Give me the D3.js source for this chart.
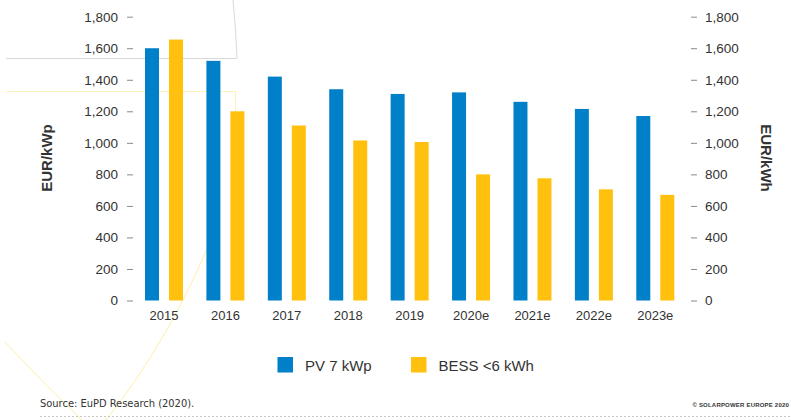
<!DOCTYPE html>
<html>
<head>
<meta charset="utf-8">
<script src="https://cdn.jsdelivr.net/npm/d3@7"></script>
<style>
  html, body { margin: 0; padding: 0; background: #fff; }
  svg { display: block; }
  text { font-family: "Liberation Sans", Arial, sans-serif; fill: #333; }
</style>
</head>
<body>
<svg id="chart" width="791" height="420"></svg>
<script>
// Residential PV system and battery storage prices
const categories = ["2015", "2016", "2017", "2018", "2019", "2020e", "2021e", "2022e", "2023e"];
const seriesNames = ["PV 7 kWp", "BESS <6 kWh"];
const pvValues = [1600, 1520, 1420, 1340, 1310, 1320, 1260, 1215, 1170];      // EUR/kWp
const bessValues = [1655, 1200, 1110, 1015, 1005, 800, 775, 705, 670];       // EUR/kWh
const yTicks = [0, 200, 400, 600, 800, 1000, 1200, 1400, 1600, 1800];
const colors = ["#0080c9", "#ffc10e"];

const svg = d3.select("#chart");

// faint decorative background strokes
const deco = svg.append("g").attr("fill", "none");
deco.append("path")
  .attr("d", "M6,58.5 L237,58.5 Q236,30 233,0")
  .attr("stroke", "#d9d9d9").attr("stroke-width", 1);
deco.append("path")
  .attr("d", "M6,91.5 L235.5,91.5 L235.5,300")
  .attr("stroke", "#fdf3b8").attr("stroke-width", 1);
deco.append("path")
  .attr("d", "M215,230 Q170,340 106,420")
  .attr("stroke", "#fdf0a8").attr("stroke-width", 1);
deco.append("path")
  .attr("d", "M5,342 Q45,385 82,420")
  .attr("stroke", "#fdf0a8").attr("stroke-width", 1);

const x0 = d3.scaleBand().domain(categories).range([133.3, 686]).padding(0);
const x1 = d3.scaleBand().domain(seriesNames)
  .range([11.7, 49.7]).paddingInner(10 / 24).paddingOuter(0);
const y = d3.scaleLinear().domain([0, 1800]).range([300.5, 16.7]);

const rows = categories.map((c, i) => ({ cat: c, values: [pvValues[i], bessValues[i]] }));

const groups = svg.append("g").selectAll("g")
  .data(rows).join("g")
  .attr("transform", d => `translate(${x0(d.cat)},0)`);

groups.selectAll("rect")
  .data(d => d.values.map((v, k) => ({ name: seriesNames[k], v, k })))
  .join("rect")
  .attr("x", d => x1(d.name))
  .attr("width", x1.bandwidth())
  .attr("y", d => y(d.v))
  .attr("height", d => y(0) - y(d.v))
  .attr("fill", d => colors[d.k]);

// category labels
svg.append("g").selectAll("text")
  .data(categories).join("text")
  .attr("x", d => x0(d) + (x1(seriesNames[0]) + x1(seriesNames[1]) + x1.bandwidth()) / 2)
  .attr("y", 320)
  .attr("text-anchor", "middle")
  .attr("font-size", 13)
  .text(d => d);

const fmt = d3.format(",");
function styleAxis(g) {
  g.select(".domain").remove();
  g.selectAll(".tick line").attr("stroke", "#888");
  g.selectAll(".tick text").attr("font-size", 13.5).attr("fill", "#333")
    .style("font-family", "'Liberation Sans', Arial, sans-serif");
}

svg.append("g")
  .attr("transform", "translate(133,0)")
  .call(d3.axisLeft(y).tickValues(yTicks).tickFormat(fmt).tickSize(6).tickPadding(9))
  .call(styleAxis);

svg.append("g")
  .attr("transform", "translate(691,0)")
  .call(d3.axisRight(y).tickValues(yTicks).tickFormat(fmt).tickSize(6).tickPadding(8))
  .call(styleAxis);

// axis titles
svg.append("text")
  .attr("transform", "translate(52,158) rotate(-90)")
  .attr("text-anchor", "middle")
  .attr("font-size", 15).attr("font-weight", "bold").attr("fill", "#222")
  .text("EUR/kWp");
svg.append("text")
  .attr("transform", "translate(761,158) rotate(90)")
  .attr("text-anchor", "middle")
  .attr("font-size", 15).attr("font-weight", "bold").attr("fill", "#222")
  .text("EUR/kWh");

// legend
const legendX = [277.5, 411];
const legend = svg.append("g").selectAll("g")
  .data(seriesNames).join("g")
  .attr("transform", (d, i) => `translate(${legendX[i]},357)`);
legend.append("rect")
  .attr("width", 15.5).attr("height", 15.5)
  .attr("fill", (d, i) => colors[i]);
legend.append("text")
  .attr("x", 27.5).attr("y", 13.5)
  .attr("font-size", 15)
  .text(d => d);

// source note and footer
svg.append("text")
  .attr("x", 40).attr("y", 407)
  .attr("font-size", 11)
  .style("font-family", "'DejaVu Sans Condensed', 'Liberation Sans Narrow', sans-serif")
  .attr("fill", "#222")
  .text("Source: EuPD Research (2020).");

svg.append("text")
  .attr("x", 789).attr("y", 407)
  .attr("text-anchor", "end")
  .attr("font-size", 6)
  .attr("font-weight", "bold")
  .attr("letter-spacing", 0.2)
  .attr("fill", "#c4c4c4")
  .text("© SOLARPOWER EUROPE 2020");

svg.append("line")
  .attr("x1", 40).attr("x2", 791)
  .attr("y1", 416.5).attr("y2", 416.5)
  .attr("stroke", "#c8c8c8").attr("stroke-width", 1)
  .attr("stroke-dasharray", "2,2");
</script>
</body>
</html>
